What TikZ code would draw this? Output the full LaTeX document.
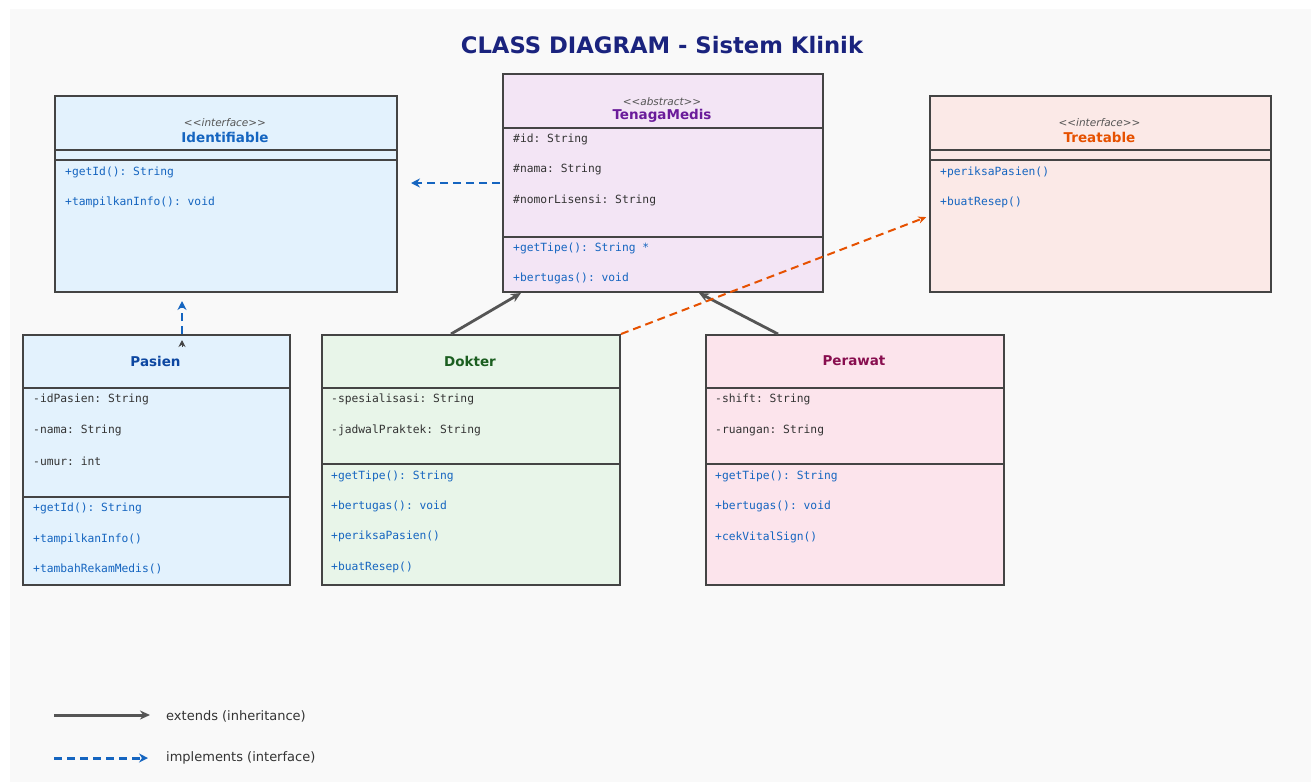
\documentclass[tikz,border=0pt]{standalone}
\usepackage{fontspec}
\setmainfont{DejaVu Sans}
\setmonofont{DejaVu Sans Mono}
\usetikzlibrary{arrows.meta}
\definecolor{bgc}{HTML}{F9F9F9}
\definecolor{boxline}{HTML}{444444}
\definecolor{arrgray}{HTML}{555555}
\definecolor{implblue}{HTML}{1565C0}
\definecolor{implorange}{HTML}{E65100}
\definecolor{titlec}{HTML}{1A237E}
\definecolor{stereoc}{HTML}{555555}
\definecolor{attrc}{HTML}{333333}
\definecolor{methc}{HTML}{1565C0}
\definecolor{fillblue}{HTML}{E3F2FD}
\definecolor{fillpurple}{HTML}{F3E5F5}
\definecolor{fillorange}{HTML}{FBE9E7}
\definecolor{fillgreen}{HTML}{E8F5E9}
\definecolor{fillpink}{HTML}{FCE4EC}
\definecolor{nIdent}{HTML}{1565C0}
\definecolor{nTenaga}{HTML}{6A1B9A}
\definecolor{nTreat}{HTML}{E65100}
\definecolor{nPasien}{HTML}{0D47A1}
\definecolor{nDokter}{HTML}{1B5E20}
\definecolor{nPerawat}{HTML}{880E4F}
\begin{document}
\begin{tikzpicture}[x=1pt,y=-1pt,
  classbox/.style={draw=boxline, line width=2pt, anchor=north west, inner sep=0pt},
  divline/.style={draw=boxline, line width=1.3pt},
  stereo/.style={inner sep=0pt, font=\fontsize{10.5}{12}\selectfont\itshape, text=stereoc},
  cname/.style={inner sep=0pt, font=\fontsize{13.5}{16}\selectfont\bfseries},
  attr/.style={anchor=west, inner sep=0pt, font=\ttfamily\fontsize{11.3}{13}\selectfont, text=attrc},
  meth/.style={attr, text=methc},
  extarrow/.style={draw=arrgray, line width=2.8pt, -{Stealth[length=10pt,width=9pt]}},
  implarrow/.style={draw=implblue, line width=2.5pt, dash pattern=on 8pt off 5pt, -{Stealth[length=9pt,width=9pt]}},
  implarroworange/.style={draw=implorange, line width=2pt, dash pattern=on 8pt off 5pt, -{Stealth[length=8pt,width=7pt]}},
  legendtext/.style={anchor=west, inner sep=0pt, font=\fontsize{13}{15}\selectfont, text=attrc}
]
\useasboundingbox (0,0) rectangle (1313,782);
\fill[bgc] (10,9) rectangle (1311,782);

\node[inner sep=0pt, font=\fontsize{22.7}{27}\selectfont\bfseries, text=titlec] (title) at (662,45) {CLASS DIAGRAM - Sistem Klinik};

% Identifiable
\node[classbox, fill=fillblue, minimum width=342pt, minimum height=196pt] (ident) at (54,95) {};
\draw[divline] (ident.west |- 0,150) -- (ident.east |- 0,150);
\draw[divline] (ident.west |- 0,160) -- (ident.east |- 0,160);
\node[stereo] (identS) at (225,123) {<{}<interface>{}>};
\node[cname, text=nIdent] (identN) at (225,137) {Identifiable};
\node[meth] (identM1) at (65,172) {+getId(): String};
\node[meth] (identM2) at (65,202) {+tampilkanInfo(): void};

% TenagaMedis
\node[classbox, fill=fillpurple, minimum width=320pt, minimum height=218pt] (tenaga) at (502,73) {};
\draw[divline] (tenaga.west |- 0,128) -- (tenaga.east |- 0,128);
\draw[divline] (tenaga.west |- 0,237) -- (tenaga.east |- 0,237);
\node[stereo] (tenagaS) at (662,102) {<{}<abstract>{}>};
\node[cname, text=nTenaga] (tenagaN) at (662,116) {TenagaMedis};
\node[attr] (tenagaA1) at (513,139) {\#id: String};
\node[attr] (tenagaA2) at (513,169) {\#nama: String};
\node[attr] (tenagaA3) at (513,200) {\#nomorLisensi: String};
\node[meth] (tenagaM1) at (513,248) {+getTipe(): String *};
\node[meth] (tenagaM2) at (513,278) {+bertugas(): void};

% Treatable
\node[classbox, fill=fillorange, minimum width=341pt, minimum height=196pt] (treat) at (929,95) {};
\draw[divline] (treat.west |- 0,150) -- (treat.east |- 0,150);
\draw[divline] (treat.west |- 0,160) -- (treat.east |- 0,160);
\node[stereo] (treatS) at (1099.5,123) {<{}<interface>{}>};
\node[cname, text=nTreat] (treatN) at (1099.5,137) {Treatable};
\node[meth] (treatM1) at (940,172) {+periksaPasien()};
\node[meth] (treatM2) at (940,202) {+buatResep()};

% Pasien
\node[classbox, fill=fillblue, minimum width=267pt, minimum height=250pt] (pasien) at (22,334) {};
\draw[divline] (pasien.west |- 0,388) -- (pasien.east |- 0,388);
\draw[divline] (pasien.west |- 0,497) -- (pasien.east |- 0,497);
\node[cname, text=nPasien] (pasienN) at (155.5,361) {Pasien};
\node[attr] (pasienA1) at (33,399) {-idPasien: String};
\node[attr] (pasienA2) at (33,430) {-nama: String};
\node[attr] (pasienA3) at (33,461) {-umur: int};
\node[meth] (pasienM1) at (33,508) {+getId(): String};
\node[meth] (pasienM2) at (33,539) {+tampilkanInfo()};
\node[meth] (pasienM3) at (33,569) {+tambahRekamMedis()};

% Dokter
\node[classbox, fill=fillgreen, minimum width=298pt, minimum height=250pt] (dokter) at (321,334) {};
\draw[divline] (dokter.west |- 0,388) -- (dokter.east |- 0,388);
\draw[divline] (dokter.west |- 0,464) -- (dokter.east |- 0,464);
\node[cname, text=nDokter] (dokterN) at (470,361) {Dokter};
\node[attr] (dokterA1) at (331,399) {-spesialisasi: String};
\node[attr] (dokterA2) at (331,430) {-jadwalPraktek: String};
\node[meth] (dokterM1) at (331,476) {+getTipe(): String};
\node[meth] (dokterM2) at (331,506) {+bertugas(): void};
\node[meth] (dokterM3) at (331,536) {+periksaPasien()};
\node[meth] (dokterM4) at (331,567) {+buatResep()};

% Perawat
\node[classbox, fill=fillpink, minimum width=298pt, minimum height=250pt] (perawat) at (705,334) {};
\draw[divline] (perawat.west |- 0,388) -- (perawat.east |- 0,388);
\draw[divline] (perawat.west |- 0,464) -- (perawat.east |- 0,464);
\node[cname, text=nPerawat] (perawatN) at (854,361) {Perawat};
\node[attr] (perawatA1) at (715,399) {-shift: String};
\node[attr] (perawatA2) at (715,430) {-ruangan: String};
\node[meth] (perawatM1) at (715,476) {+getTipe(): String};
\node[meth] (perawatM2) at (715,506) {+bertugas(): void};
\node[meth] (perawatM3) at (715,537) {+cekVitalSign()};

% connectors
\draw[implarrow, shorten <=2pt, shorten >=13pt] (tenaga.west) -- (tenaga.west -| ident.east);
\draw[implarrow, shorten >=8pt] ([xshift=25.5pt]pasien.north) -- ([xshift=25.5pt]pasien.north |- ident.south);
\draw[draw=boxline, line width=1pt, -{Stealth[length=7pt,width=7pt]}] ([xshift=25.5pt,yshift=-13pt]pasien.north) -- ([xshift=25.5pt,yshift=-6pt]pasien.north);
\draw[extarrow] ([xshift=-20pt]dokter.north) -- ([xshift=-142pt]tenaga.south);
\draw[extarrow] ([xshift=-77pt]perawat.north) -- ([xshift=36pt]tenaga.south);
\draw[implarroworange, shorten >=3pt] (dokter.north east) -- ([yshift=-22pt]treat.west);

% legend
\coordinate (leg1a) at (54,715);
\coordinate (leg1b) at (150,715);
\coordinate (leg2a) at (54,758);
\coordinate (leg2b) at (148,758);
\draw[extarrow, line width=3pt] (leg1a) -- (leg1b);
\draw[implarrow, line width=3pt] (leg2a) -- (leg2b);
\node[legendtext] (leg1t) at (166,716) {extends (inheritance)};
\node[legendtext] (leg2t) at (166,758) {implements (interface)};
\end{tikzpicture}
\end{document}
